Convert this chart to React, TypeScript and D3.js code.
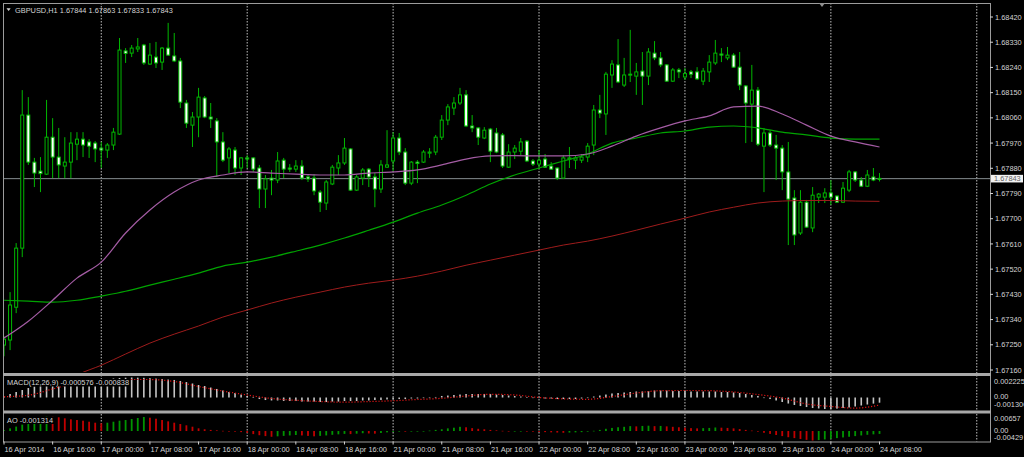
import React, { useEffect } from 'react';
import * as d3 from 'd3';

// GBPUSD H1, 16 Apr 2014 08:00 .. 24 Apr 2014 08:00 (145 bars)
const opens = [
  1.67249, 1.67267, 1.67384, 1.67595, 1.6807, 1.67902, 1.6787, 1.67859, 1.67991, 1.6792,
  1.67888, 1.67902, 1.67966, 1.67984, 1.67974, 1.6797, 1.67952, 1.67945, 1.67963, 1.68002,
  1.68299, 1.68291, 1.68306, 1.6832, 1.68252, 1.68277, 1.68259, 1.68309, 1.68281, 1.68263,
  1.68113, 1.68034, 1.68063, 1.68131, 1.68063, 1.68049, 1.67974, 1.67917, 1.67945, 1.67881,
  1.67917, 1.67917, 1.67881, 1.67806, 1.67845, 1.67838, 1.67909, 1.67881, 1.67877, 1.67888,
  1.67849, 1.67845, 1.67795, 1.67756, 1.67824, 1.67881, 1.67899, 1.67949, 1.67802, 1.67845,
  1.67877, 1.67849, 1.67806, 1.67884, 1.67906, 1.67988, 1.67938, 1.67827, 1.67902, 1.67902,
  1.67934, 1.67938, 1.67991, 1.68052, 1.68095, 1.68113, 1.68142, 1.68031, 1.68024, 1.67988,
  1.6802, 1.68006, 1.67999, 1.67884, 1.67938, 1.67941, 1.67977, 1.67906, 1.67895, 1.67913,
  1.67888, 1.67881, 1.67845, 1.67913, 1.67909, 1.67909, 1.6792, 1.67963, 1.68088, 1.68074,
  1.68213, 1.68249, 1.68177, 1.68213, 1.68209, 1.68227, 1.68209, 1.68291, 1.68274, 1.68249,
  1.68191, 1.68231, 1.68206, 1.68224, 1.68224, 1.68191, 1.68224, 1.68256, 1.68288, 1.68274,
  1.68284, 1.68241, 1.68174, 1.68109, 1.68159, 1.67959, 1.68006, 1.67963, 1.67952, 1.67867,
  1.67774, 1.67649, 1.67759, 1.67667, 1.67777, 1.67777, 1.67792, 1.67781, 1.67759, 1.67802,
  1.67867, 1.67838, 1.67816, 1.67849, 1.67844,
];
const highs = [
  1.67281, 1.67438, 1.67613, 1.68159, 1.68134, 1.67917, 1.6792, 1.68124, 1.68059, 1.68024,
  1.67991, 1.68009, 1.68009, 1.68009, 1.67984, 1.67977, 1.67974, 1.6797, 1.68024, 1.68345,
  1.68309, 1.6832, 1.68345, 1.68324, 1.68327, 1.68331, 1.68313, 1.68399, 1.68363, 1.68274,
  1.68124, 1.68081, 1.68167, 1.68138, 1.68113, 1.68059, 1.68009, 1.67956, 1.67956, 1.6792,
  1.67927, 1.6792, 1.67892, 1.67856, 1.67874, 1.67938, 1.67917, 1.67895, 1.67909, 1.67909,
  1.67859, 1.67859, 1.67802, 1.67838, 1.67892, 1.67927, 1.67988, 1.67952, 1.67856, 1.67881,
  1.67881, 1.67863, 1.67909, 1.68016, 1.68009, 1.68006, 1.67952, 1.67906, 1.67909, 1.67945,
  1.67952, 1.67999, 1.6807, 1.68109, 1.68134, 1.68167, 1.68159, 1.6807, 1.68027, 1.68027,
  1.68024, 1.68024, 1.68006, 1.67966, 1.67963, 1.67988, 1.67981, 1.67913, 1.67945, 1.67931,
  1.67902, 1.67884, 1.67927, 1.67956, 1.67927, 1.67931, 1.6797, 1.68106, 1.68142, 1.68224,
  1.68266, 1.68341, 1.68274, 1.68374, 1.68256, 1.68295, 1.68309, 1.68334, 1.68295, 1.68252,
  1.68238, 1.68238, 1.68238, 1.68231, 1.68241, 1.68238, 1.68284, 1.68338, 1.68309, 1.68313,
  1.68291, 1.68295, 1.68177, 1.68249, 1.6817, 1.68024, 1.68016, 1.67999, 1.67963, 1.67974,
  1.67802, 1.67802, 1.67767, 1.67813, 1.67792, 1.67809, 1.67838, 1.67784, 1.67831, 1.67874,
  1.6787, 1.67849, 1.67874, 1.67881, 1.67863,
];
const lows = [
  1.67209, 1.67231, 1.67363, 1.67563, 1.67892, 1.67813, 1.67795, 1.67856, 1.67845, 1.67845,
  1.67845, 1.67845, 1.67909, 1.6792, 1.67917, 1.67902, 1.67881, 1.67917, 1.67945, 1.67999,
  1.68256, 1.68277, 1.68295, 1.68249, 1.68249, 1.68238, 1.68231, 1.68281, 1.68259, 1.68095,
  1.68024, 1.67956, 1.67991, 1.68059, 1.68024, 1.67849, 1.67902, 1.67863, 1.67856, 1.67856,
  1.67881, 1.67867, 1.67738, 1.67738, 1.67784, 1.67827, 1.67845, 1.67867, 1.67867, 1.67838,
  1.67831, 1.67784, 1.67724, 1.67731, 1.6782, 1.67856, 1.67892, 1.67799, 1.67799, 1.6782,
  1.67813, 1.67741, 1.67792, 1.67881, 1.67867, 1.67927, 1.6782, 1.6782, 1.67827, 1.67899,
  1.67917, 1.67927, 1.67981, 1.68034, 1.6807, 1.68106, 1.68027, 1.68009, 1.67963, 1.67984,
  1.67902, 1.67934, 1.67881, 1.67881, 1.67913, 1.67927, 1.67902, 1.67888, 1.67877, 1.67881,
  1.67874, 1.67838, 1.67842, 1.67881, 1.67877, 1.67899, 1.67902, 1.67927, 1.68059, 1.67999,
  1.68167, 1.68184, 1.6817, 1.68188, 1.68142, 1.68106, 1.68177, 1.68266, 1.68241, 1.68188,
  1.68188, 1.68202, 1.68195, 1.68202, 1.68195, 1.68177, 1.68188, 1.68249, 1.68259, 1.68266,
  1.68238, 1.68159, 1.6797, 1.67974, 1.67959, 1.67795, 1.67956, 1.67838, 1.67802, 1.67606,
  1.67606, 1.67642, 1.67667, 1.67652, 1.67756, 1.67756, 1.67749, 1.67756, 1.67756, 1.67795,
  1.67831, 1.67813, 1.67813, 1.67834, 1.67833,
];
const closes = [
  1.6727, 1.67392, 1.67595, 1.6807, 1.67902, 1.67863, 1.67861, 1.67991, 1.6792, 1.67892,
  1.67902, 1.6797, 1.67984, 1.67963, 1.67959, 1.67949, 1.67945, 1.67963, 1.68009, 1.68302,
  1.6829, 1.68309, 1.68313, 1.68256, 1.68284, 1.68256, 1.68309, 1.68284, 1.68263, 1.68116,
  1.68041, 1.68063, 1.68134, 1.68063, 1.68056, 1.67974, 1.67909, 1.67949, 1.67881, 1.67917,
  1.67913, 1.67877, 1.67806, 1.67842, 1.67838, 1.67906, 1.67877, 1.67877, 1.67888, 1.67845,
  1.67842, 1.67799, 1.67759, 1.67831, 1.67884, 1.67899, 1.67952, 1.67802, 1.67849, 1.67874,
  1.67849, 1.67806, 1.67892, 1.67892, 1.67988, 1.67938, 1.67827, 1.67902, 1.67897, 1.67938,
  1.67938, 1.67991, 1.68052, 1.68099, 1.68113, 1.68142, 1.68031, 1.68024, 1.67991, 1.68016,
  1.67941, 1.67938, 1.67888, 1.67938, 1.67952, 1.67974, 1.67906, 1.67895, 1.67909, 1.67884,
  1.67877, 1.67845, 1.67917, 1.67917, 1.67917, 1.6792, 1.67959, 1.68088, 1.68077, 1.68216,
  1.68252, 1.68188, 1.68213, 1.68216, 1.68224, 1.68209, 1.68295, 1.68274, 1.68249, 1.68191,
  1.68231, 1.68224, 1.68218, 1.68216, 1.68199, 1.68227, 1.68259, 1.68291, 1.68284, 1.68284,
  1.68241, 1.68177, 1.68113, 1.68159, 1.67966, 1.68006, 1.67963, 1.67952, 1.67867, 1.6777,
  1.67642, 1.67759, 1.6767, 1.67784, 1.67788, 1.67792, 1.67777, 1.67759, 1.67809, 1.67867,
  1.67838, 1.67816, 1.67856, 1.67838, 1.67843,
];

// moving averages, read every 4th bar
const maStep = 4;
const maPurple = [
  1.67274, 1.67334, 1.67409, 1.67488, 1.67545, 1.67649, 1.67731, 1.67795, 1.67838, 1.67856,
  1.67867, 1.67863, 1.67859, 1.67856, 1.67856, 1.67863, 1.67867, 1.67874, 1.67892, 1.67913,
  1.67924, 1.67925, 1.67924, 1.67924, 1.67931, 1.67959, 1.67995, 1.68024, 1.68049, 1.68067,
  1.68099, 1.68102, 1.68074, 1.68034, 1.67995, 1.67974, 1.67956,
];
const maGreen = [
  1.67409, 1.67406, 1.67402, 1.67409, 1.67424, 1.67441, 1.67463, 1.67484, 1.67506, 1.67531,
  1.67545, 1.67563, 1.67584, 1.67606, 1.67631, 1.67659, 1.67688, 1.6772, 1.67749, 1.67784,
  1.67824, 1.67856, 1.67881, 1.67906, 1.67931, 1.6797, 1.67988, 1.68006, 1.68013, 1.68027,
  1.68031, 1.68024, 1.68009, 1.67999, 1.67988, 1.67984, 1.67984,
];
const maRed = [
  1.66981, 1.67034, 1.67088, 1.67142, 1.67177, 1.67217, 1.67256, 1.67288, 1.67317, 1.67349,
  1.67374, 1.67399, 1.6742, 1.67438, 1.67456, 1.6747, 1.67481, 1.67495, 1.67513, 1.67534,
  1.67552, 1.6757, 1.67588, 1.67606, 1.6762, 1.67638, 1.67659, 1.67681, 1.67702, 1.67724,
  1.67741, 1.67756, 1.67763, 1.67765, 1.67765, 1.67763, 1.67762,
];

const macdMain = [
  0.000167, 0.000389, 0.000612, 0.000834, 0.001057, 0.001224, 0.001391, 0.001502, 0.001613, 0.001724,
  0.00178, 0.001836, 0.001891, 0.001947, 0.001947, 0.002003, 0.002058, 0.002058, 0.002114, 0.002169,
  0.0022, 0.002225, 0.00221, 0.00219, 0.00215, 0.00211, 0.00206, 0.002, 0.00195, 0.00184,
  0.00172, 0.00156, 0.00139, 0.00128, 0.00111, 0.00095, 0.00078, 0.00061, 0.0005, 0.00033,
  0.00017, 0.00006, -0.00017, -0.00028, -0.00033, -0.00033, -0.00039, -0.00039, -0.00039, -0.00045,
  -0.00045, -0.00045, -0.0005, -0.0005, -0.00045, -0.00045, -0.00039, -0.00039, -0.00039, -0.00033,
  -0.00033, -0.00028, -0.00028, -0.00022, -0.00017, -0.00017, -0.00017, -0.00011, -0.00011, -0.00006,
  0.0, 0.00006, 0.00017, 0.00022, 0.00028, 0.00033, 0.00039, 0.00039, 0.00039, 0.00039,
  0.00039, 0.00033, 0.00028, 0.00022, 0.00017, 0.00011, 0.00006, 0.0, -0.00006, -0.00011,
  -0.00011, -0.00017, -0.00017, -0.00017, -0.00017, -0.00011, -0.00006, 0.00011, 0.00022, 0.00033,
  0.00045, 0.0005, 0.00056, 0.00061, 0.00067, 0.00067, 0.00072, 0.00078, 0.00078, 0.00078,
  0.00072, 0.00072, 0.00072, 0.00067, 0.00067, 0.00067, 0.00067, 0.00067, 0.00061, 0.00061,
  0.00056, 0.0005, 0.00039, 0.00028, 0.00017, -0.00006, -0.00017, -0.00033, -0.0005, -0.00067,
  -0.00083, -0.00095, -0.00106, -0.00117, -0.00122, -0.00128, -0.0013, -0.00124, -0.00117, -0.00111,
  -0.001, -0.00089, -0.00078, -0.00068, -0.000576,
];
// signal line, read every 4th bar
const macdSignal = [
  0.00009, 0.00025, 0.00095, 0.00167, 0.00195, 0.002, 0.002, 0.00178, 0.00122, 0.00072,
  0.00028, -0.00011, -0.00031, -0.00045, -0.00052, -0.00045, -0.00036, -0.00022, -0.00009, 0.00017,
  0.00036, 0.00028, 0.0, -0.00015, -0.0002, 0.00011, 0.0005, 0.00076, 0.00078, 0.00076,
  0.00061, 0.00033, -0.00006, -0.00072, -0.001, -0.00118, -0.000838,
];

const aoValues = [
  0.0004, 0.0012, 0.002, 0.0029, 0.0039, 0.0048, 0.0057, 0.00657,
  0.00648, 0.00621, 0.00575, 0.0053, 0.00498, 0.00467, 0.00421, 0.00376, 0.00349,
  0.00376, 0.00421, 0.00467, 0.00498, 0.00544, 0.00589, 0.00634,
  0.00603, 0.00557, 0.00498, 0.00438, 0.00376, 0.00317, 0.00258, 0.00195, 0.00122,
  0.0008, 0.0005, 0.0003, 0.0001, -0.0001, -0.0003, -0.0005, -0.0008, -0.0014, -0.0019, -0.0023, -0.0026,
  -0.0024, -0.0022, -0.002, -0.0018,
  -0.002, -0.0022, -0.0024,
  -0.0022, -0.002, -0.0017,
  -0.0015, -0.0013, -0.0014, -0.0012, -0.001, -0.0011, -0.0012, -0.0009, -0.0006, -0.0004,
  -0.0002, -0.0003, -0.0002, -0.0001, 0.0, 0.0002, 0.0005, 0.0008, 0.0012, 0.0015, 0.0019,
  0.0017, 0.0013, 0.001, 0.0008, 0.0005, 0.0003, 0.0001,
  -0.0002, -0.0001, 0.0, -0.0002, -0.0003, -0.0004, -0.0005, -0.0006, -0.0007, -0.0008, -0.0007, -0.0006, -0.0005, -0.0003, 0.0001, 0.0005,
  0.001, 0.0014, 0.0017, 0.0019, 0.0022, 0.0021, 0.0023, 0.0024, 0.0022, 0.0023, 0.0021, 0.0019,
  0.0017, 0.0015, 0.0013, 0.0012, 0.0013, 0.0014, 0.0016, 0.0015, 0.0014, 0.0012, 0.0009, 0.0005, 0.0002,
  -0.0003, -0.0008, -0.0013, -0.0018, -0.0023, -0.0028, -0.0032, -0.0036, -0.004, -0.00429,
  -0.0041, -0.0038, -0.0035, -0.0032, -0.0029, -0.0026, -0.0023, -0.002, -0.0017, -0.0015, -0.001314,
];

const priceTicks = [
  1.6842, 1.6833, 1.6824, 1.6815, 1.6806, 1.6797, 1.6788, 1.6779,
  1.677, 1.6761, 1.6752, 1.6743, 1.6734, 1.6725, 1.6716,
];
const timeLabels = [
  '16 Apr 2014', '16 Apr 16:00', '17 Apr 00:00', '17 Apr 08:00', '17 Apr 16:00',
  '18 Apr 00:00', '18 Apr 08:00', '18 Apr 16:00', '21 Apr 00:00', '21 Apr 08:00',
  '21 Apr 16:00', '22 Apr 00:00', '22 Apr 08:00', '22 Apr 16:00', '23 Apr 00:00',
  '23 Apr 08:00', '23 Apr 16:00', '24 Apr 00:00', '24 Apr 08:00',
];
const labelEvery = 8;
const dayStarts = [16, 40, 64, 88, 112, 136, 160];
const bid = 1.67843;

const FONT = '"Liberation Sans", Arial, sans-serif';
const TXT = '#d4d4d4';
const CANDLE = '#00b800';

const PANEL = { left: 3, right: 990, top: 3, mainBottom: 373, macdTop: 376, macdBottom: 410.5, aoTop: 413.5, bottom: 441.5 };

export default function App() {
  useEffect(() => {
    document.body.style.margin = '0';
    document.body.style.background = '#000';
  }, []);

  const x = d3.scaleLinear().domain([0, 144]).range([4, 879.5]);
  const y = d3.scaleLinear().domain([1.6716, 1.6842]).range([370, 17]);
  const yMacd = d3.scaleLinear().domain([-0.0013, 0.002225]).range([409.2, 377.5]);
  const yAo = d3.scaleLinear().domain([-0.00429, 0.00657]).range([440.5, 416.5]);

  const maLine = d3.line<number>()
    .x((_, k) => x(k * maStep))
    .y((d) => y(d))
    .curve(d3.curveMonotoneX);
  const sigLine = d3.line<number>()
    .x((_, k) => x(k * maStep))
    .y((d) => yMacd(d))
    .curve(d3.curveMonotoneX);

  const bidY = y(bid);

  return (
    <svg width={1024} height={457} style={{ display: 'block', background: '#000' }} fontFamily={FONT}>
      <defs>
        <clipPath id="mainClip">
          <rect x={PANEL.left + 1} y={PANEL.top + 1} width={PANEL.right - PANEL.left - 2} height={PANEL.mainBottom - PANEL.top - 2} />
        </clipPath>
      </defs>
      <rect width={1024} height={457} fill="#000" />

      {/* day separators */}
      {dayStarts.map((d) => (
        <line key={'g' + d} x1={x(d)} x2={x(d)} y1={PANEL.top} y2={PANEL.bottom}
          stroke="#c0c0c0" strokeWidth={1} strokeDasharray="1.5,1.5" />
      ))}

      {/* bid line */}
      <line x1={PANEL.left} x2={PANEL.right} y1={bidY} y2={bidY} stroke="#858c90" strokeWidth={1} />

      <g clipPath="url(#mainClip)">
        {opens.map((o, i) => {
          const c = closes[i];
          const cx = x(i);
          const top = y(Math.max(o, c));
          const h = Math.max(1, y(Math.min(o, c)) - top);
          const bull = c >= o;
          return (
            <g key={'c' + i}>
              <line x1={cx} x2={cx} y1={y(highs[i])} y2={y(lows[i])} stroke={CANDLE} strokeWidth={1} />
              <rect x={cx - 1.5} y={top} width={3} height={h}
                fill={bull ? '#000' : '#fff'} stroke={CANDLE} strokeWidth={1} />
            </g>
          );
        })}
        <path d={maLine(maRed) || ''} fill="none" stroke="#9e1c1c" strokeWidth={1} />
        <path d={maLine(maGreen) || ''} fill="none" stroke="#00a400" strokeWidth={1.2} />
        <path d={maLine(maPurple) || ''} fill="none" stroke="#a45ca4" strokeWidth={1.2} />
      </g>

      {/* MACD */}
      {macdMain.map((v, i) => {
        const y0 = yMacd(0);
        const y1 = yMacd(v);
        return (
          <rect key={'m' + i} x={x(i) - 0.8} y={Math.min(y0, y1)} width={1.6}
            height={Math.max(0.6, Math.abs(y1 - y0))} fill="#c4c4c4" />
        );
      })}
      <path d={sigLine(macdSignal) || ''} fill="none" stroke="#e01414" strokeWidth={1.2} strokeDasharray="1.2,1.8" />

      {/* AO */}
      {aoValues.map((v, i) => {
        const y0 = yAo(0);
        const y1 = yAo(v);
        const up = i === 0 || v >= aoValues[i - 1];
        return (
          <rect key={'a' + i} x={x(i) - 0.9} y={Math.min(y0, y1)} width={1.8}
            height={Math.max(0.6, Math.abs(y1 - y0))} fill={up ? '#009400' : '#c00000'} />
        );
      })}

      {/* frames */}
      <rect x={PANEL.left + 0.5} y={PANEL.top + 0.5} width={PANEL.right - PANEL.left} height={PANEL.bottom - PANEL.top}
        fill="none" stroke="#9c9c9c" strokeWidth={1} />
      <rect x={PANEL.left} y={PANEL.mainBottom} width={PANEL.right - PANEL.left + 1} height={PANEL.macdTop - PANEL.mainBottom} fill="#a8a8a8" />
      <rect x={PANEL.left} y={PANEL.macdBottom} width={PANEL.right - PANEL.left + 1} height={PANEL.aoTop - PANEL.macdBottom} fill="#a8a8a8" />

      {/* price axis */}
      {priceTicks.map((p) => (
        <g key={'p' + p}>
          <line x1={PANEL.right} x2={PANEL.right + 3} y1={y(p)} y2={y(p)} stroke={TXT} />
          <text x={995} y={y(p)} dy="0.35em" fontSize={7.4} fill={TXT}>{p.toFixed(5)}</text>
        </g>
      ))}
      <rect x={991} y={bidY - 3.8} width={32} height={7.6} fill="#f2f2f2" />
      <text x={994} y={bidY} dy="0.35em" fontSize={7.4} fill="#606060">{bid.toFixed(5)}</text>

      {/* indicator scales */}
      <text x={994} y={381.7} dy="0.35em" fontSize={7.4} fill={TXT}>0.002225</text>
      <text x={994} y={396.8} dy="0.35em" fontSize={7.4} fill={TXT}>0.00</text>
      <text x={994} y={404.5} dy="0.35em" fontSize={7.4} fill={TXT}>-0.001300</text>
      <text x={994} y={418.8} dy="0.35em" fontSize={7.4} fill={TXT}>0.00657</text>
      <text x={994} y={430} dy="0.35em" fontSize={7.4} fill={TXT}>0.00</text>
      <text x={994} y={437} dy="0.35em" fontSize={7.4} fill={TXT}>-0.00429</text>

      {/* time axis */}
      {timeLabels.map((t, k) => {
        const tx = x(k * labelEvery);
        return (
          <g key={'t' + k}>
            <line x1={tx} x2={tx} y1={PANEL.bottom} y2={PANEL.bottom + 3} stroke={TXT} />
            <text x={tx + 0.5} y={452.3} fontSize={7.4} fill={TXT}>{t}</text>
          </g>
        );
      })}

      {/* titles */}
      <path d="M6.5,8.3 L10.7,8.3 L8.6,11 Z" fill={TXT} />
      <text x={15} y={12.6} fontSize={7.4} fill={TXT}>GBPUSD,H1  1.67844 1.67863 1.67833 1.67843</text>
      <rect x={6} y={379} width={124} height={7.5} fill="#000" />
      <text x={7} y={385.4} fontSize={7.4} fill={TXT}>MACD(12,26,9) -0.000576 -0.000838</text>
      <rect x={6} y={416.5} width={48} height={7.5} fill="#000" />
      <text x={7} y={423.3} fontSize={7.4} fill={TXT}>AO -0.001314</text>
      <path d="M819,3 L825,3 L822,7 Z" fill="#909090" />
    </svg>
  );
}
